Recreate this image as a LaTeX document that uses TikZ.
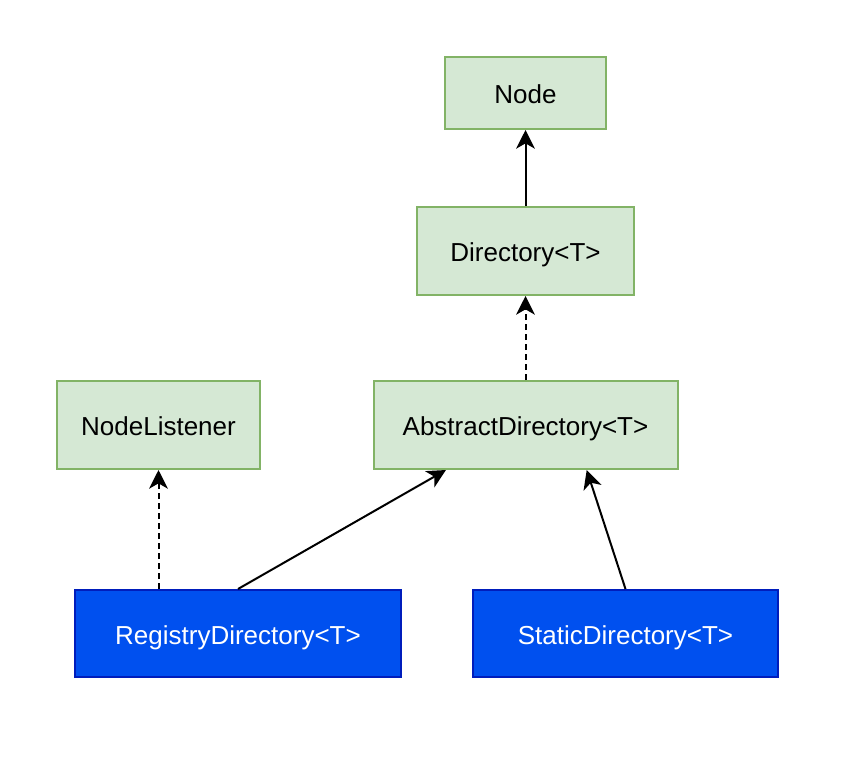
\documentclass[tikz,border=0pt]{standalone}
\usepackage{fontspec}
\setmainfont{Liberation Sans}
\usetikzlibrary{calc,arrows.meta}

\definecolor{boxgreen}{HTML}{D5E8D4}
\definecolor{linegreen}{HTML}{82B366}
\definecolor{boxblue}{HTML}{0050EF}
\definecolor{lineblue}{HTML}{001DBC}

\tikzset{
  iface/.style={draw=linegreen,fill=boxgreen,line width=1.5pt,
    font=\fontsize{19.5}{23}\selectfont,text=black,inner sep=0pt,
    text height=16pt,text depth=0.2pt},
  impl/.style={draw=lineblue,fill=boxblue,line width=1.5pt,
    font=\fontsize{19.5}{23}\selectfont,text=white,inner sep=0pt,
    text height=16pt,text depth=0.2pt},
  ext/.style={line width=1.5pt,-{Stealth[length=14pt,width=14pt,inset=4pt]}},
  impls/.style={ext,dash pattern=on 4.5pt off 3pt}
}

\begin{document}
\begin{tikzpicture}[x=0.75pt,y=-0.75pt]
\useasboundingbox (0,0) rectangle (849,760);
% Interfaces and abstract class
\node[iface,minimum width=120.75pt,minimum height=54pt] (node) at (525.5,93) {Node};
\node[iface,minimum width=162.75pt,minimum height=66pt] (dir) at (525.5,251) {Directory<T>};
\node[iface,minimum width=152.25pt,minimum height=66pt] (nl) at (158.5,425) {NodeListener};
\node[iface,minimum width=228pt,minimum height=66pt] (abs) at (525.5,425) {AbstractDirectory<T>};
% Implementations
\node[impl,minimum width=244.5pt,minimum height=65.25pt] (reg) at (238,633.5) {RegistryDirectory<T>};
\node[impl,minimum width=228.75pt,minimum height=65.25pt] (stat) at (625.5,633.5) {StaticDirectory<T>};
% Connectors
\draw[ext] (dir.north) -- (node.south);
\draw[impls] (abs.north) -- (dir.south);
\draw[impls] (reg.north -| nl.south) -- (nl.south);
\draw[ext] (reg.north) -- ($(abs.south west)!0.24!(abs.south east)$);
\draw[ext] (stat.north) -- ($(abs.south west)!0.7!(abs.south east)$);
\end{tikzpicture}
\end{document}
